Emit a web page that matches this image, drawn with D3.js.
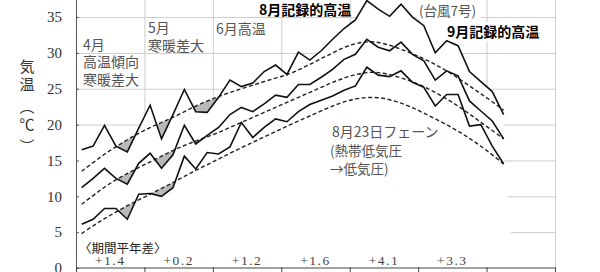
<!DOCTYPE html>
<html>
<head>
<meta charset="utf-8">
<script src="https://cdn.jsdelivr.net/npm/d3@7"></script>
<style>
body{margin:0;background:#fff}
svg{display:block}
</style>
</head>
<body>
<div id="chart"></div>
<script>
// 半旬(5日)ごとの気温, 4月第1半旬〜10月第2半旬
const months = ["4月","5月","6月","7月","8月","9月","10月"]
const diffs = ["+1.4","+0.2","+1.2","+1.6","+4.1","+3.3"]
const yTicks = [0,5,10,15,20,25,30,35]

const maxT = [16.5,17.0,19.9,17.0,16.2,19.5,22.7,18.0,21.4,24.9,21.8,21.7,23.8,26.2,25.3,25.8,27.4,28.3,27.0,30.1,29.0,30.3,31.9,33.4,34.6,37.3,36.1,35.1,36.8,35.0,33.8,30.0,31.7,31.0,27.4,26.0,24.6,21.4]
const meanT = [11.2,12.5,13.9,12.5,11.7,14.6,16.0,13.9,15.8,19.9,17.3,18.5,19.6,21.4,22.4,21.8,22.9,24.1,23.8,25.6,25.6,26.6,27.7,29.1,29.8,31.9,30.8,30.3,31.5,29.8,28.9,26.2,27.5,26.8,23.3,21.9,20.5,18.0]
const minT = [6.1,6.8,8.3,8.3,6.8,10.3,10.4,10.0,11.2,15.6,13.8,16.1,15.9,16.9,20.3,18.2,19.6,20.8,20.4,21.8,22.8,23.4,24.0,24.8,25.4,28.0,26.9,26.7,27.5,25.9,25.2,22.6,24.2,24.2,19.8,20.0,17.0,14.5]

// 平年値
const maxN = [13.5,14.7,15.9,16.9,17.9,18.8,19.6,20.3,21.0,21.8,22.6,23.3,23.9,24.5,25.0,25.5,26.0,26.5,26.9,27.6,28.4,29.2,30.0,30.8,31.3,31.6,31.5,31.1,30.5,29.9,29.2,28.4,27.5,26.5,25.4,24.3,23.2,22.0]
const meanN = [8.9,10.1,11.3,12.3,13.2,14.0,14.8,15.6,16.4,17.1,17.7,18.3,18.9,19.6,20.3,21.0,21.7,22.4,23.1,23.8,24.5,25.2,25.9,26.5,27.0,27.3,27.3,27.0,26.5,26.0,25.3,24.5,23.6,22.6,21.5,20.3,19.2,18.0]
const minN = [4.8,5.9,6.9,7.8,8.7,9.5,10.3,11.1,11.9,12.8,13.6,14.4,15.2,16.0,16.8,17.5,18.3,19.0,19.8,20.5,21.2,21.9,22.6,23.2,23.6,23.8,23.8,23.5,23.0,22.4,21.6,20.8,20.0,19.1,18.1,17.0,15.8,14.5]

const W = 600, H = 272
const left = 76, right = 555, bottom = 268
const shadeUntil = 13 // 4〜5月の低温部だけ網掛け

const svg = d3.select("#chart").append("svg").attr("width",W).attr("height",H)
  .style("background","#fff")

const xP = d3.scaleLinear().domain([0, months.length*6]).range([left,right])
const xM = d3.scaleBand().domain(months).range([left,right])
const y = d3.scaleLinear().domain([0,40]).range([bottom,-18.8])
const bounds = months.map((m,i)=>i*6).concat([months.length*6])

// grid
const gy = svg.append("g").attr("transform",`translate(${left},0)`)
  .call(d3.axisLeft(y).tickValues(yTicks.filter(v=>v>0)).tickSize(-(right-left)).tickFormat(""))
gy.select(".domain").remove()
gy.selectAll("line").attr("stroke","#cdcdcd")
const gx = svg.append("g").attr("transform",`translate(0,${bottom})`)
  .call(d3.axisBottom(xP).tickValues(bounds).tickSize(-(bottom+20)).tickFormat(""))
gx.select(".domain").remove()
gx.selectAll("line").attr("stroke","#cdcdcd")

// white cover under the max line (the grid does not show through there)
const coverPts = [{p:0.09,t:maxT[0]}]
  .concat(maxT.map((t,i)=>({p:i+0.5,t:t})))
  .concat([{p:37.5,t:15},{p:37.8,t:10},{p:38.15,t:5},{p:38.3,t:0.1}])
svg.append("path").datum(coverPts)
  .attr("d", d3.area().x(d=>xP(d.p)).y0(bottom-1).y1(d=>y(d.t)))
  .attr("fill","#fff")

// white boxes behind some labels
const boxes = [[257,0,93,17],[417,0,64,19],[443,22,95,19]]
svg.selectAll("rect.box").data(boxes).enter().append("rect").attr("class","box")
  .attr("x",d=>d[0]).attr("y",d=>d[1]).attr("width",d=>d[2]).attr("height",d=>d[3])
  .attr("fill","#fff")

const series = [
  {name:"max", act:maxT, norm:maxN},
  {name:"mean", act:meanT, norm:meanN},
  {name:"min", act:minT, norm:minN}
]

const defs = svg.append("defs")
const normArea = d3.area().x((d,i)=>xP(i+0.5)).y0(bottom).y1(d=>y(d)).curve(d3.curveBasis)
series.forEach(s=>{
  const cp = defs.append("clipPath").attr("id","below-"+s.name)
  cp.append("path").attr("d", normArea(s.norm))
  const cp2 = defs.append("clipPath").attr("id","early-"+s.name)
  cp2.append("rect").attr("x",left).attr("y",-20).attr("width",xP(shadeUntil)-left).attr("height",bottom+20)
})

// gray shading where actual < normal
series.forEach(s=>{
  svg.append("g").attr("clip-path",`url(#early-${s.name})`)
    .append("path")
    .attr("clip-path",`url(#below-${s.name})`)
    .attr("d", d3.area().x((d,i)=>xP(i+0.5)).y0(-20).y1(d=>y(d))(s.act))
    .attr("fill","#b9b9b9")
})

const normLine = d3.line().x((d,i)=>xP(i+0.5)).y(d=>y(d)).curve(d3.curveBasis)
const actLine = d3.line().x((d,i)=>xP(i+0.5)).y(d=>y(d))

svg.selectAll("path.norm").data(series).enter().append("path").attr("class","norm")
  .attr("d",d=>normLine(d.norm))
  .attr("fill","none").attr("stroke","#222").attr("stroke-width",1.4)
  .attr("stroke-dasharray","4,2.5")

svg.selectAll("path.act").data(series).enter().append("path").attr("class","act")
  .attr("d",d=>actLine(d.act))
  .attr("fill","none").attr("stroke","#111").attr("stroke-width",1.6)
  .attr("stroke-linejoin","miter")

// axes
const ay = svg.append("g").attr("transform",`translate(${left},0)`)
  .call(d3.axisLeft(y).tickValues(yTicks).tickSizeInner(-3).tickSizeOuter(0).tickPadding(14))
ay.select(".domain").attr("stroke","#555")
ay.selectAll("line").attr("stroke","#555")
ay.selectAll("text").attr("font-family","'Liberation Serif',serif").attr("font-size",15).attr("fill","#333")

const ax = svg.append("g").attr("transform",`translate(0,${bottom-0.5})`)
  .call(d3.axisBottom(xP).tickValues(bounds).tickSizeInner(6).tickSizeOuter(0).tickFormat(""))
ax.select(".domain").attr("stroke","#444")
ax.selectAll("line").attr("stroke","#444")

// y title
const title = ["気","温","︵","℃","︶"]
const titleY = [72,90,112,130,152]
svg.selectAll("text.yt").data(title).enter().append("text").attr("class","yt")
  .attr("x",27).attr("y",(d,i)=>titleY[i]).attr("text-anchor","middle")
  .attr("font-family","'Noto Sans CJK JP',sans-serif").attr("font-size",15).attr("fill","#333")
  .text(d=>d)

// 期間平年差
svg.append("text").attr("x",79).attr("y",253)
  .attr("font-family","'Noto Sans CJK JP',sans-serif").attr("font-size",12.5).attr("fill","#222")
  .text("〈期間平年差〉")
svg.selectAll("text.diff").data(diffs).enter().append("text").attr("class","diff")
  .attr("x",(d,i)=>xM(months[i])+xM.bandwidth()/2).attr("y",265)
  .attr("text-anchor","middle").attr("letter-spacing",1.5)
  .attr("font-family","'Liberation Serif',serif").attr("font-size",13.5).attr("fill","#444")
  .text(d=>d)

// annotations
const notes = [
  {t:"4月",x:83,y:50},
  {t:"高温傾向",x:83,y:67},
  {t:"寒暖差大",x:83,y:85},
  {t:"5月",x:148,y:33},
  {t:"寒暖差大",x:148,y:51},
  {t:"6月高温",x:216,y:34},
  {t:"(台風7号)",x:419,y:16,s:13.5},
  {t:"8月23日フェーン",x:332,y:137},
  {t:"(熱帯低気圧",x:330,y:156,s:13.5},
  {t:"→低気圧)",x:330,y:174,s:13.5},
  {t:"8月記録的高温",x:259,y:15,b:true},
  {t:"9月記録的高温",x:447,y:37,b:true}
]
svg.selectAll("text.note").data(notes).enter().append("text").attr("class","note")
  .attr("x",d=>d.x).attr("y",d=>d.y)
  .attr("font-family","'Noto Sans CJK JP',sans-serif")
  .attr("font-size",d=>d.s||14)
  .attr("font-weight",d=>d.b?"bold":"normal")
  .attr("fill",d=>d.b?"#000":"#555")
  .text(d=>d.t)
</script>
</body>
</html>
